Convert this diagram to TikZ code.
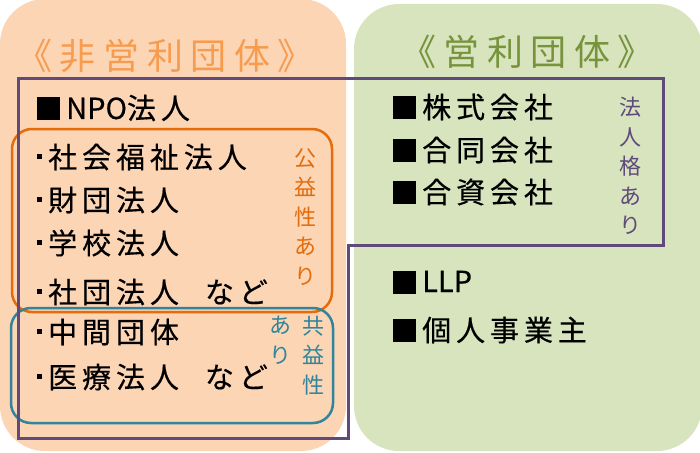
\documentclass[tikz,border=0pt]{standalone}
\usepackage{fontspec}
\newfontfamily\jp[LetterSpace=17,FakeBold=0.4]{Noto Sans CJK JP}
\newfontfamily\jpt[LetterSpace=21]{Noto Sans CJK JP}
\newfontfamily\jpn[FakeBold=0.4]{Noto Sans CJK JP}
\newfontfamily\jpv{Noto Sans CJK JP}
\definecolor{peach}{HTML}{FCD5B5}
\definecolor{sage}{HTML}{D7E4BD}
\definecolor{otitle}{HTML}{F79C4E}
\definecolor{gtitle}{HTML}{77933C}
\definecolor{purp}{HTML}{604A7B}
\definecolor{obox}{HTML}{E46C0A}
\definecolor{tbox}{HTML}{31849B}
\newcommand{\blk}{\rule[-1.5pt]{23pt}{23pt}\hspace{6pt}}
\newcommand{\dotb}{\rule[9pt]{5pt}{5pt}\hspace{6pt}}
\begin{document}
\begin{tikzpicture}[x=1pt,y=-1pt,
  item/.style={anchor=west,inner sep=0pt,font=\jp\fontsize{29}{34}\selectfont},
  vlab/.style={align=center,inner sep=0pt,font=\jpv\fontsize{22}{29.5}\selectfont},
  ttl/.style={inner sep=0pt,font=\jpt\fontsize{36}{40}\selectfont},
  panel/.style={rounded corners=45pt},
  grp/.style={line width=2.5pt,rounded corners=20pt}]
\useasboundingbox (0,0) rectangle (700,452);
% panels
\fill[peach,panel] (0,-1) rectangle (346,451);
\fill[sage,panel] (354,4) rectangle (702,451);
% groups
\draw[grp,obox] (12,129) rectangle (332,312);
\draw[grp,tbox] (11,308) rectangle (333,423);
\draw[purp,line width=3pt] (18,78) -- (663,78) -- (663,245) -- (348,245) -- (348,438) -- (18,438) -- cycle;
% titles
\node[ttl,text=otitle] (t1) at (165,56) {《非営利団体》};
\node[ttl,text=gtitle] (t2) at (527,52) {《営利団体》};
% left items
\node[item] (a1) at (37,108) {\blk{\jpn NPO}法人};
\node[item] (a2) at (37,157) {\dotb 社会福祉法人};
\node[item] (a3) at (37,200) {\dotb 財団法人};
\node[item] (a4) at (37,243) {\dotb 学校法人};
\node[item] (a5) at (37,292) {\dotb 社団法人\hspace{26pt}など};
\node[item] (a6) at (37,332) {\dotb 中間団体};
\node[item] (a7) at (37,377) {\dotb 医療法人\hspace{26pt}など};
% right items
\node[item] (b1) at (393,107) {\blk 株式会社};
\node[item] (b2) at (393,150) {\blk 合同会社};
\node[item] (b3) at (393,192) {\blk 合資会社};
\node[item] (b4) at (393,282) {\blk{\jpn LLP}};
\node[item] (b5) at (393,330) {\blk 個人事業主};
% vertical labels
\node[vlab,text=obox] (v1) at (305,217) {公\\益\\性\\あ\\り};
\node[vlab,text=tbox,anchor=north] (v2) at (313,316) {共\\益\\性};
\node[vlab,text=tbox,anchor=north] (v3) at (280,316) {あ\\り};
\node[vlab,text=purp] (v4) at (630,166) {法\\人\\格\\あ\\り};
\end{tikzpicture}
\end{document}
